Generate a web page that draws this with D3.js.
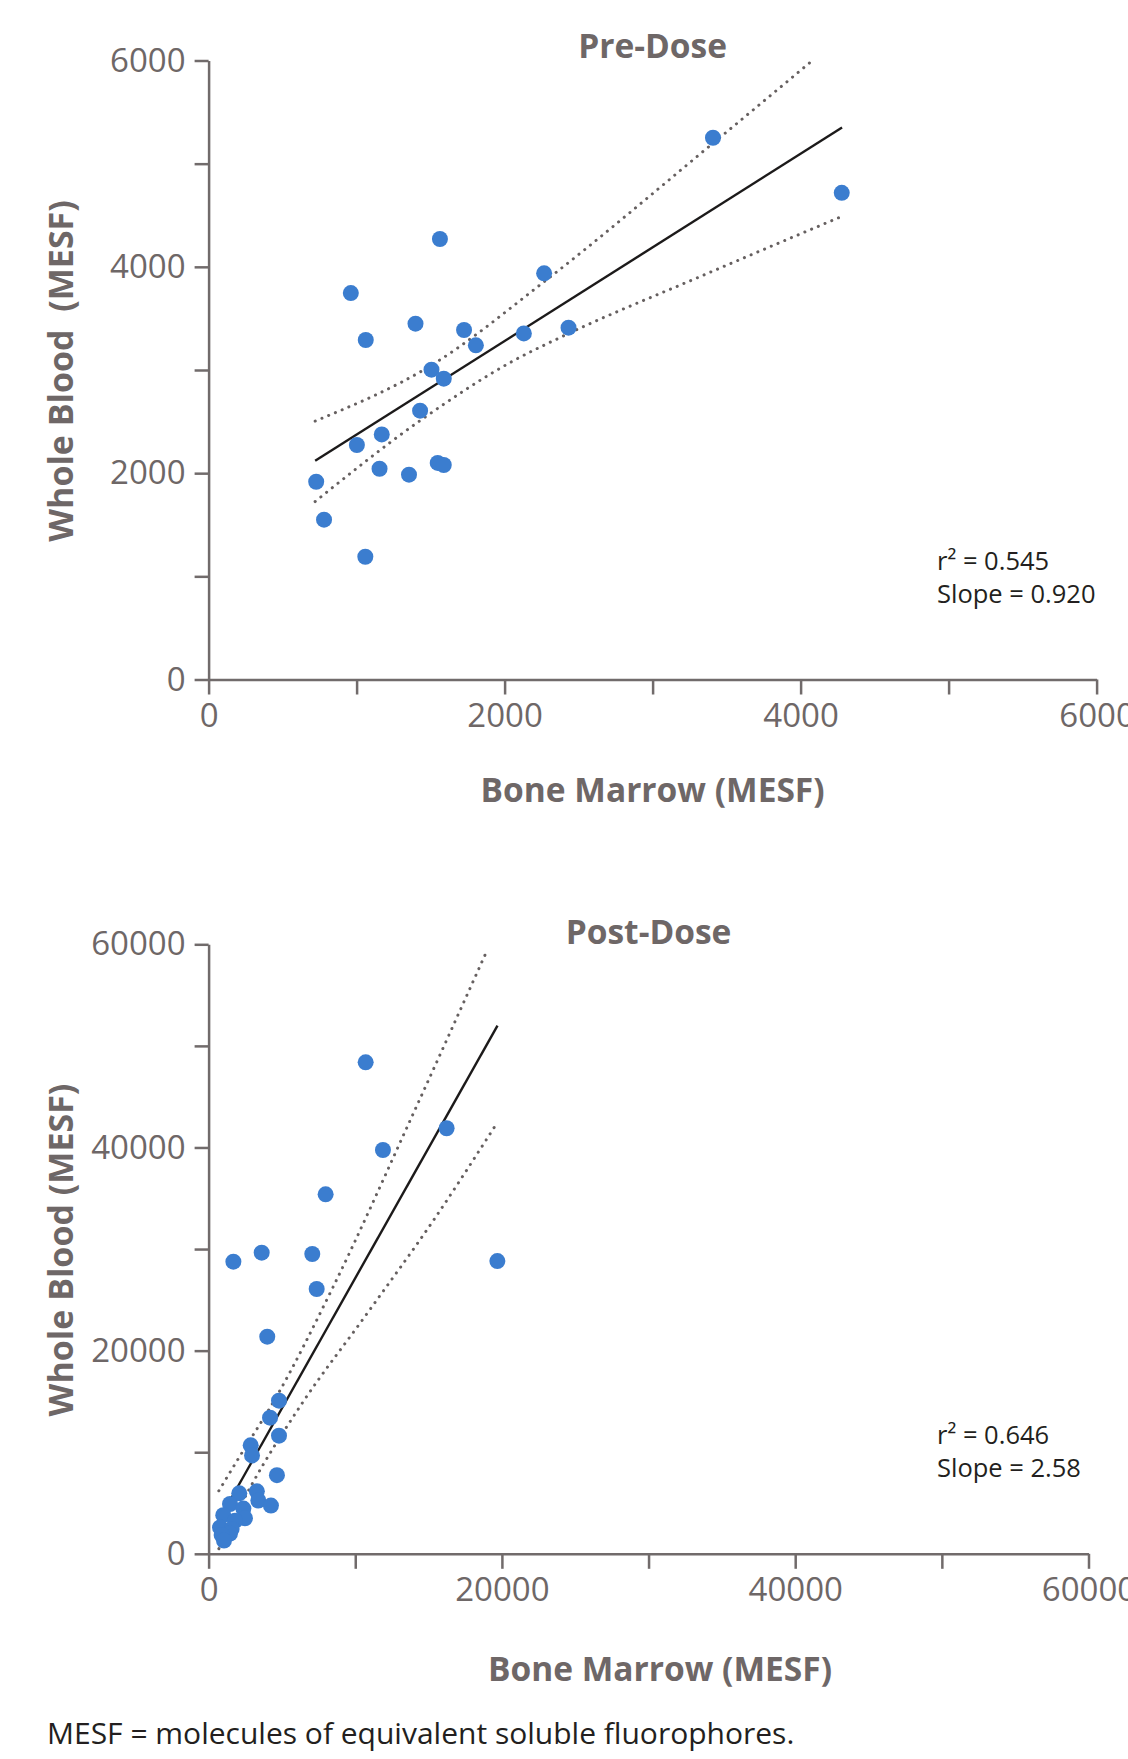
<!DOCTYPE html>
<html>
<head>
<meta charset="utf-8">
<script src="https://cdn.jsdelivr.net/npm/d3@7"></script>
<style>
  body { margin: 0; background: #fff; }
  svg { display: block; }
</style>
</head>
<body>
<div id="chart"></div>
<script>
// Pre-Dose: bone marrow (x) vs whole blood (y), MESF
const preBoneMarrow = [727, 780, 961, 1002, 1062, 1059, 1155, 1170, 1354, 1398, 1429, 1506, 1563, 1548, 1589, 1589, 1726, 1806, 2130, 2267, 2432, 3408, 4278];
const preWholeBlood = [1917, 1549, 3746, 2273, 3291, 1190, 2043, 2376, 1985, 3449, 2606, 3003, 4270, 2099, 2079, 2916, 3388, 3239, 3355, 3937, 3410, 5251, 4717];
const preFitX = [720, 4280];
const preFitY = [2120, 5350];
const preUpperX = [720, 1510, 2280, 3410, 4080];
const preUpperY = [2505, 3050, 3870, 5200, 6000];
const preLowerX = [720, 1430, 2060, 2420, 3320, 4280];
const preLowerY = [1725, 2510, 3090, 3345, 3905, 4490];
const preTicks = [0, 1000, 2000, 3000, 4000, 5000, 6000];

// Post-Dose
const postBoneMarrow = [10710, 11890, 16230, 7980, 1690, 3620, 7070, 19690, 7370, 4000, 4800, 4190, 4800, 2870, 2960, 4660, 3290, 3390, 4250, 2090, 1460, 2370, 1000, 2480, 1800, 780, 1570, 1460, 890, 1050];
const postWholeBlood = [48380, 39750, 41890, 35390, 28760, 29640, 29510, 28820, 26070, 21370, 15070, 13400, 11630, 10680, 9680, 7740, 6150, 5250, 4750, 5950, 4900, 4450, 3800, 3500, 3250, 2600, 2450, 2000, 1850, 1300];
const postFitX = [700, 19700];
const postFitY = [3300, 52000];
const postUpperX = [700, 2000, 4640, 8500, 13960, 18960];
const postUpperY = [6200, 9300, 15500, 26300, 43350, 59300];
const postLowerX = [700, 2940, 6230, 10780, 15320, 19530];
const postLowerY = [500, 6800, 14500, 23600, 32800, 42100];
const postTicks = [0, 10000, 20000, 30000, 40000, 50000, 60000];

const FONT = "'Open Sans', 'Liberation Sans', sans-serif";
const GREY = "#6e6767";
const AXIS = "#716b6b";
const DARK = "#231f20";
const BLUE = "#3b7dcf";

const svg = d3.select("#chart").append("svg")
    .attr("width", 1128)
    .attr("height", 1759);

function drawPanel(p) {
    const x = d3.scaleLinear().domain([0, d3.max(p.ticks)]).range([p.left, p.right]);
    const y = d3.scaleLinear().domain([0, d3.max(p.ticks)]).range([p.bottom, p.top]);

    // axes
    const gx = svg.append("g")
        .attr("transform", "translate(0," + p.bottom + ")")
        .call(d3.axisBottom(x).tickValues(p.ticks).tickSize(15).tickSizeOuter(0).tickPadding(9)
            .tickFormat((d, i) => i % 2 === 0 ? d : ""));
    const gy = svg.append("g")
        .attr("transform", "translate(" + p.left + ",0)")
        .call(d3.axisLeft(y).tickValues(p.ticks).tickSize(14).tickSizeOuter(0).tickPadding(9)
            .tickFormat((d, i) => i % 2 === 0 ? d : ""));
    [gx, gy].forEach(g => {
        g.attr("font-family", FONT).attr("font-size", 33);
        g.select(".domain").attr("stroke", AXIS).attr("stroke-width", 2.5);
        g.selectAll(".tick line").attr("stroke", AXIS).attr("stroke-width", 2.5);
        g.selectAll(".tick text").attr("fill", GREY);
    });

    // fit line and confidence bands
    const line = d3.line().x(d => x(d[0])).y(d => y(d[1])).curve(d3.curveMonotoneX);
    [[p.upX, p.upY], [p.loX, p.loY]].forEach(b => {
        svg.append("path")
            .datum(d3.zip(b[0], b[1]))
            .attr("d", line)
            .attr("fill", "none")
            .attr("stroke", "#666060")
            .attr("stroke-width", 3)
            .attr("stroke-linecap", "round")
            .attr("stroke-dasharray", "0.1 7.2");
    });
    svg.append("path")
        .datum(d3.zip(p.fitX, p.fitY))
        .attr("d", line)
        .attr("fill", "none")
        .attr("stroke", "#1c1a1a")
        .attr("stroke-width", 2.4);

    // points
    svg.append("g").selectAll("circle")
        .data(d3.zip(p.xs, p.ys))
        .enter().append("circle")
        .attr("cx", d => x(d[0]))
        .attr("cy", d => y(d[1]))
        .attr("r", 8)
        .attr("fill", BLUE);

    // texts
    svg.append("text")
        .attr("x", (p.left + p.right) / 2)
        .attr("y", p.titleY)
        .attr("text-anchor", "middle")
        .attr("font-family", FONT)
        .attr("font-weight", "bold")
        .attr("font-size", 33.5)
        .attr("fill", GREY)
        .text(p.title);

    svg.append("text")
        .attr("transform", "translate(73," + ((p.top + p.bottom) / 2 + 1) + ") rotate(-90)")
        .attr("text-anchor", "middle")
        .attr("font-family", FONT)
        .attr("font-weight", "bold")
        .attr("font-size", 34)
        .attr("fill", GREY)
        .style("white-space", "pre")
        .text(p.yLabel);

    svg.append("text")
        .attr("x", p.xLabelX)
        .attr("y", p.xLabelY)
        .attr("text-anchor", "middle")
        .attr("font-family", FONT)
        .attr("font-weight", "bold")
        .attr("font-size", 33.5)
        .attr("fill", GREY)
        .text("Bone Marrow (MESF)");

    p.stats.forEach((s, i) => {
        svg.append("text")
            .attr("x", 937)
            .attr("y", p.statY + i * 33)
            .attr("font-family", FONT)
            .attr("font-size", 25.5)
            .attr("fill", DARK)
            .text(s);
    });
}

drawPanel({
    xs: preBoneMarrow, ys: preWholeBlood,
    fitX: preFitX, fitY: preFitY,
    upX: preUpperX, upY: preUpperY,
    loX: preLowerX, loY: preLowerY,
    ticks: preTicks,
    left: 208.6, right: 1096.6, top: 60.5, bottom: 679.5,
    title: "Pre-Dose", titleY: 58,
    yLabel: "Whole Blood  (MESF)",
    xLabelX: 652.6, xLabelY: 802,
    stats: ["r\u00b2 = 0.545", "Slope = 0.920"], statY: 570
});

drawPanel({
    xs: postBoneMarrow, ys: postWholeBlood,
    fitX: postFitX, fitY: postFitY,
    upX: postUpperX, upY: postUpperY,
    loX: postLowerX, loY: postLowerY,
    ticks: postTicks,
    left: 208.6, right: 1088.5, top: 944.3, bottom: 1553.8,
    title: "Post-Dose", titleY: 944,
    yLabel: "Whole Blood (MESF)",
    xLabelX: 660, xLabelY: 1681,
    stats: ["r\u00b2 = 0.646", "Slope = 2.58"], statY: 1444
});

svg.append("text")
    .attr("x", 47)
    .attr("y", 1744)
    .attr("font-family", FONT)
    .attr("font-size", 30)
    .attr("fill", DARK)
    .text("MESF = molecules of equivalent soluble fluorophores.");
</script>
</body>
</html>
